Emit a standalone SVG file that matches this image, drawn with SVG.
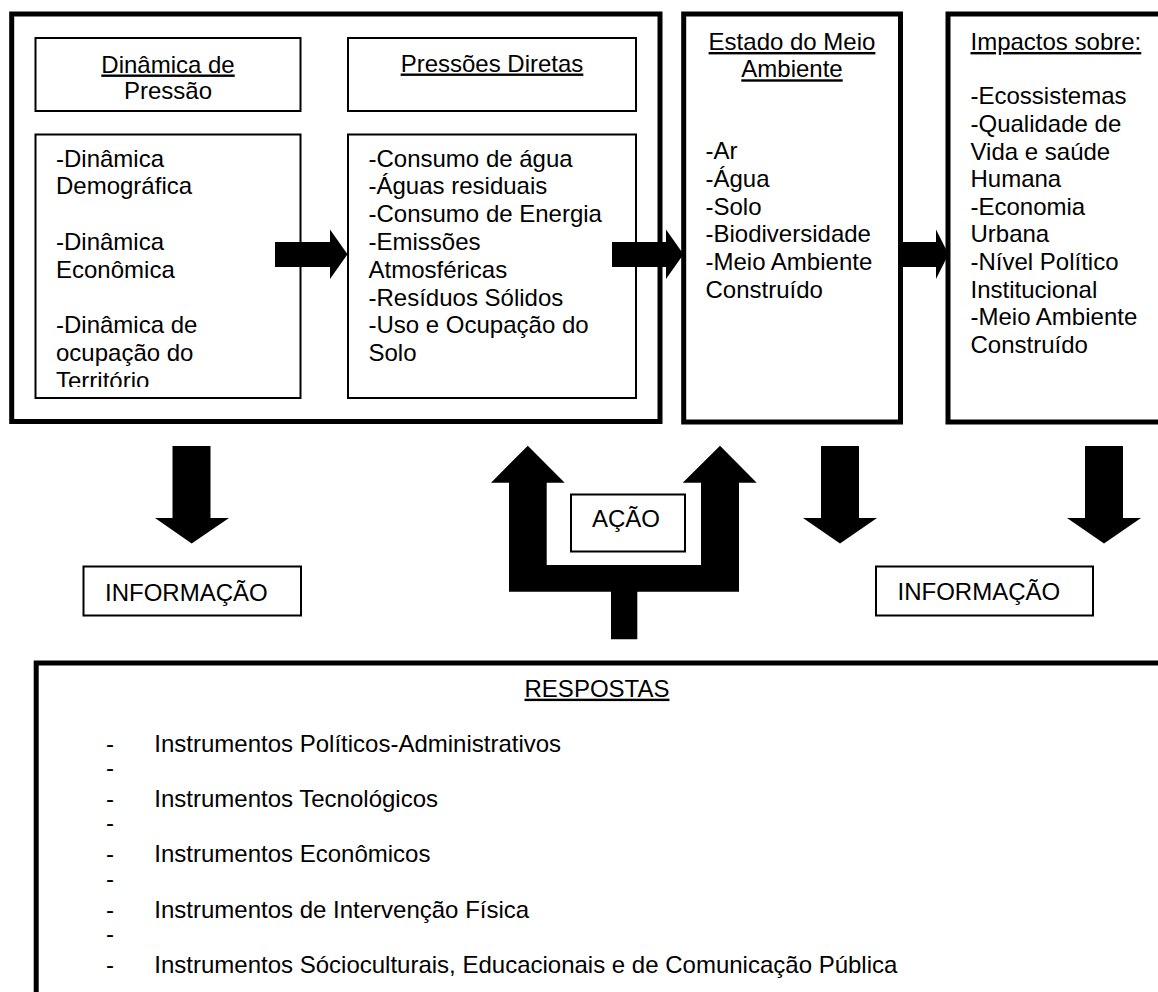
<svg xmlns="http://www.w3.org/2000/svg" width="1158" height="992" viewBox="0 0 1158 992">
<style>
text{font-family:"Liberation Sans",Arial,Helvetica,sans-serif;font-size:24px;fill:#000}
.u{text-decoration:underline}
.mid{text-anchor:middle}
.thick{fill:none;stroke:#000;stroke-width:5}
.thin{fill:#fff;stroke:#000;stroke-width:2}
.arrow{fill:#000;stroke:none}
</style>
<defs>
<clipPath id="clipTerr"><rect x="36" y="134" width="264" height="253"/></clipPath>
</defs>
<rect width="1158" height="992" fill="#fff"/>

<g id="pressure-group">
<rect class="thick" x="11.7" y="14" width="648.3" height="407.5"/>
</g>

<g id="dinamica-header">
<rect class="thin" x="35.5" y="38" width="265" height="73"/>
<text class="mid u" x="168" y="72.5">Dinâmica de</text>
<text class="mid" x="168" y="99.3">Pressão</text>
</g>

<g id="pressoes-header">
<rect class="thin" x="348" y="38" width="288" height="73"/>
<text class="mid u" x="492" y="71.5">Pressões Diretas</text>
</g>

<g id="dinamica-content">
<rect class="thin" x="35.5" y="134.5" width="265" height="263.5"/>
<g clip-path="url(#clipTerr)">
<text x="56" y="166.7">-Dinâmica</text>
<text x="56" y="194.4">Demográfica</text>
<text x="56" y="250">-Dinâmica</text>
<text x="56" y="277.8">Econômica</text>
<text x="56" y="333.3">-Dinâmica de</text>
<text x="56" y="361">ocupação do</text>
<text x="56" y="388.8">Território</text>
</g>
</g>

<g id="pressoes-content">
<rect class="thin" x="348" y="134.5" width="288" height="263.5"/>
<text x="368.5" y="166.7">-Consumo de água</text>
<text x="368.5" y="194.4">-Águas residuais</text>
<text x="368.5" y="222.2">-Consumo de Energia</text>
<text x="368.5" y="250">-Emissões</text>
<text x="368.5" y="277.8">Atmosféricas</text>
<text x="368.5" y="305.6">-Resíduos Sólidos</text>
<text x="368.5" y="333.3">-Uso e Ocupação do</text>
<text x="368.5" y="361">Solo</text>
</g>

<g id="estado">
<rect class="thick" x="683.7" y="14" width="216.8" height="408"/>
<text class="mid u" x="792" y="50">Estado do Meio</text>
<text class="mid u" x="792" y="77.3">Ambiente</text>
<text x="705.5" y="159.3">-Ar</text>
<text x="705.5" y="186.9">-Água</text>
<text x="705.5" y="214.5">-Solo</text>
<text x="705.5" y="242.2">-Biodiversidade</text>
<text x="705.5" y="269.9">-Meio Ambiente</text>
<text x="705.5" y="297.6">Construído</text>
</g>

<g id="impactos">
<rect class="thick" x="948" y="14" width="220" height="408"/>
<text class="u" x="970.5" y="50">Impactos sobre:</text>
<text x="970.5" y="104.3">-Ecossistemas</text>
<text x="970.5" y="131.9">-Qualidade de</text>
<text x="970.5" y="159.5">Vida e saúde</text>
<text x="970.5" y="187.1">Humana</text>
<text x="970.5" y="214.7">-Economia</text>
<text x="970.5" y="242.3">Urbana</text>
<text x="970.5" y="269.9">-Nível Político</text>
<text x="970.5" y="297.5">Institucional</text>
<text x="970.5" y="325.1">-Meio Ambiente</text>
<text x="970.5" y="352.7">Construído</text>
</g>

<g id="informacao-left">
<rect class="thin" x="83.5" y="566.5" width="217.5" height="49"/>
<text x="105" y="600.7">INFORMAÇÃO</text>
</g>

<g id="acao">
<rect class="thin" x="571" y="494.5" width="114" height="57"/>
<text class="mid" x="626" y="526.7">AÇÃO</text>
</g>

<g id="informacao-right">
<rect class="thin" x="876" y="566.5" width="217" height="49"/>
<text x="897.5" y="600.3">INFORMAÇÃO</text>
</g>

<g id="respostas">
<rect class="thick" x="36.2" y="663" width="1140" height="340"/>
<text class="mid u" x="597" y="696.7">RESPOSTAS</text>
<text x="106" y="751.7">-</text>
<text x="154.3" y="751.7">Instrumentos Políticos-Administrativos</text>
<text x="106" y="775.7">-</text>
<text x="106" y="806.7">-</text>
<text x="154.3" y="806.7">Instrumentos Tecnológicos</text>
<text x="106" y="830.7">-</text>
<text x="106" y="861.7">-</text>
<text x="154.3" y="861.7">Instrumentos Econômicos</text>
<text x="106" y="886.7">-</text>
<text x="106" y="917.7">-</text>
<text x="154.3" y="917.7">Instrumentos de Intervenção Física</text>
<text x="106" y="941.7">-</text>
<text x="106" y="972.7">-</text>
<text x="154.3" y="972.7">Instrumentos Sócioculturais, Educacionais e de Comunicação Pública</text>
</g>

<g id="connectors">
<polygon class="arrow" points="275,242 330,242 330,229.5 347.5,254.3 330,279 330,267 275,267"/>
<polygon class="arrow" points="612,242 666,242 666,229.5 683.5,254.3 666,279 666,267 612,267"/>
<polygon class="arrow" points="901,242 936,242 936,229.5 948.5,254.3 936,279 936,267 901,267"/>
<polygon class="arrow" points="172.5,446 210.5,446 210.5,518 229,518 191.7,543.5 155,518 172.5,518"/>
<polygon class="arrow" points="821,446 859,446 859,518 877,518 840,543.5 803,518 821,518"/>
<polygon class="arrow" points="1085,446 1123,446 1123,518 1141,518 1104,543.5 1067,518 1085,518"/>
<polygon class="arrow" points="527.8,445.7 564.7,482.7 546.7,482.7 546.7,565 701,565 701,482.7 682.7,482.7 720,445.7 756.7,482.7 739,482.7 739,591.7 637.3,591.7 637.3,639.3 611,639.3 611,591.7 509,591.7 509,482.7 491,482.7"/>
</g>
</svg>
